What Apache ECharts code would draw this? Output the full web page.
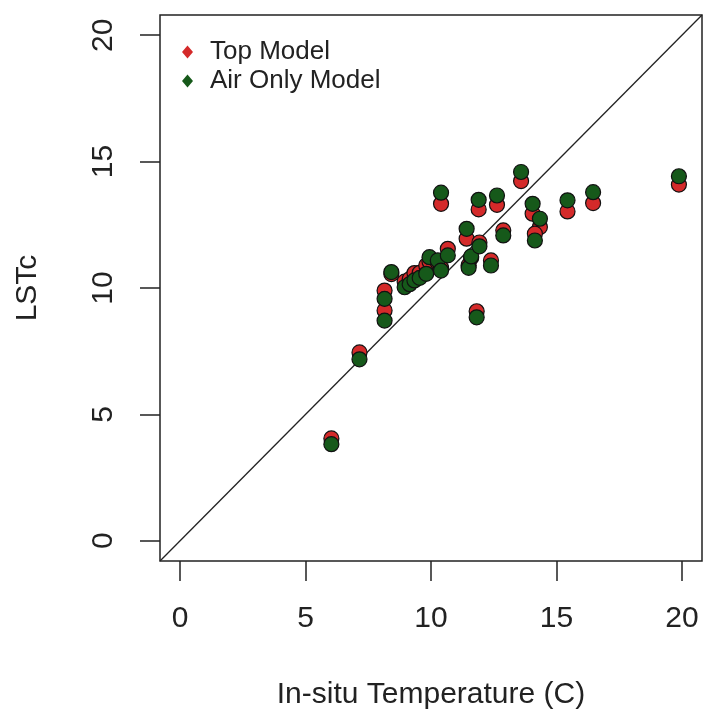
<!DOCTYPE html>
<html>
<head>
<meta charset="utf-8">
<script src="https://cdn.jsdelivr.net/npm/echarts@6/dist/echarts.min.js"></script>
<style>
html,body{margin:0;padding:0;background:#fff;}
#chart{width:704px;height:715px;}
</style>
</head>
<body>
<div id="chart"></div>
<script>
// In-situ temperature (x) for each site
const insitu = [6.03, 7.15, 8.15, 8.15, 8.42, 8.95, 9.15, 9.34, 9.55, 9.81, 9.94, 10.27, 10.40, 10.67,
  10.40, 11.42, 11.50, 11.60, 11.93, 11.82, 11.90, 12.39, 12.63, 12.88, 13.59, 14.05, 14.34, 14.14,
  15.44, 16.46, 19.88];
// LSTc, Top Model
const topModel = [4.05, 7.45, 9.90, 9.11, 10.55, 10.25, 10.35, 10.59, 10.60, 10.89, 11.05, 11.00, 10.80, 11.55,
  13.33, 11.95, 10.90, 11.20, 11.80, 9.08, 13.11, 11.09, 13.29, 12.28, 14.23, 12.94, 12.41, 12.15,
  13.03, 13.36, 14.09];
// LSTc, Air Only Model
const airOnly = [3.82, 7.18, 9.57, 8.71, 10.63, 10.03, 10.15, 10.30, 10.40, 10.56, 11.22, 11.09, 10.69, 11.29,
  13.77, 12.34, 10.80, 11.25, 11.65, 8.84, 13.49, 10.89, 13.66, 12.08, 14.59, 13.33, 12.74, 11.88,
  13.47, 13.79, 14.42];
const tickValues = [0, 5, 10, 15, 20];
const axisRange = [-0.8, 20.8];
const oneToOne = [[-0.8, -0.8], [20.8, 20.8]];
const seriesNames = ['Top Model', 'Air Only Model'];

const font = 'Liberation Sans, Arial, sans-serif';
const ink = '#222';
const red = '#d42a2a';
const green = '#16591a';

const pairs = (ys) => insitu.map((x, i) => [x, ys[i]]);

const chart = echarts.init(document.getElementById('chart'), null, {renderer: 'canvas'});
const axisCommon = {
  type: 'value',
  min: axisRange[0],
  max: axisRange[1],
  splitLine: {show: false},
  axisLine: {show: false, onZero: false},
  axisTick: {show: true, inside: false, length: 20, customValues: tickValues, lineStyle: {color: ink, width: 1.5}},
  nameLocation: 'middle',
  nameTextStyle: {fontFamily: font, fontSize: 30, color: ink}
};
chart.setOption({
  animation: false,
  backgroundColor: '#fff',
  grid: {left: 160, right: 2, top: 15, bottom: 153, show: true, borderColor: ink, borderWidth: 1.5, backgroundColor: 'transparent'},
  legend: {
    orient: 'vertical', left: 177, top: 34, itemGap: 3,
    itemWidth: 11, itemHeight: 13,
    data: [{name: seriesNames[0], icon: 'diamond', itemStyle: {color: red, borderWidth: 0}},
           {name: seriesNames[1], icon: 'diamond', itemStyle: {color: green, borderWidth: 0}}],
    textStyle: {fontFamily: font, fontSize: 26, color: ink, padding: [0, 0, 0, 12]}
  },
  xAxis: Object.assign({}, axisCommon, {
    name: 'In-situ Temperature (C)', nameGap: 119,
    axisLabel: {customValues: tickValues, margin: 43, fontFamily: font, fontSize: 30, color: ink}
  }),
  yAxis: Object.assign({}, axisCommon, {
    name: 'LSTc', nameGap: 117,
    axisLabel: {customValues: tickValues, rotate: 90, margin: 41, fontFamily: font, fontSize: 30, color: ink}
  }),
  series: [
    {type: 'line', data: oneToOne, symbol: 'none', silent: true, z: 1,
     lineStyle: {color: '#222', width: 1.3}},
    {name: seriesNames[0], type: 'scatter', data: pairs(topModel), symbol: 'circle', symbolSize: 15, z: 2,
     itemStyle: {color: red, borderColor: '#111', borderWidth: 1.2, opacity: 1}},
    {name: seriesNames[1], type: 'scatter', data: pairs(airOnly), symbol: 'circle', symbolSize: 15, z: 3,
     itemStyle: {color: green, borderColor: '#111', borderWidth: 1.2, opacity: 1}}
  ]
});
</script>
</body>
</html>
